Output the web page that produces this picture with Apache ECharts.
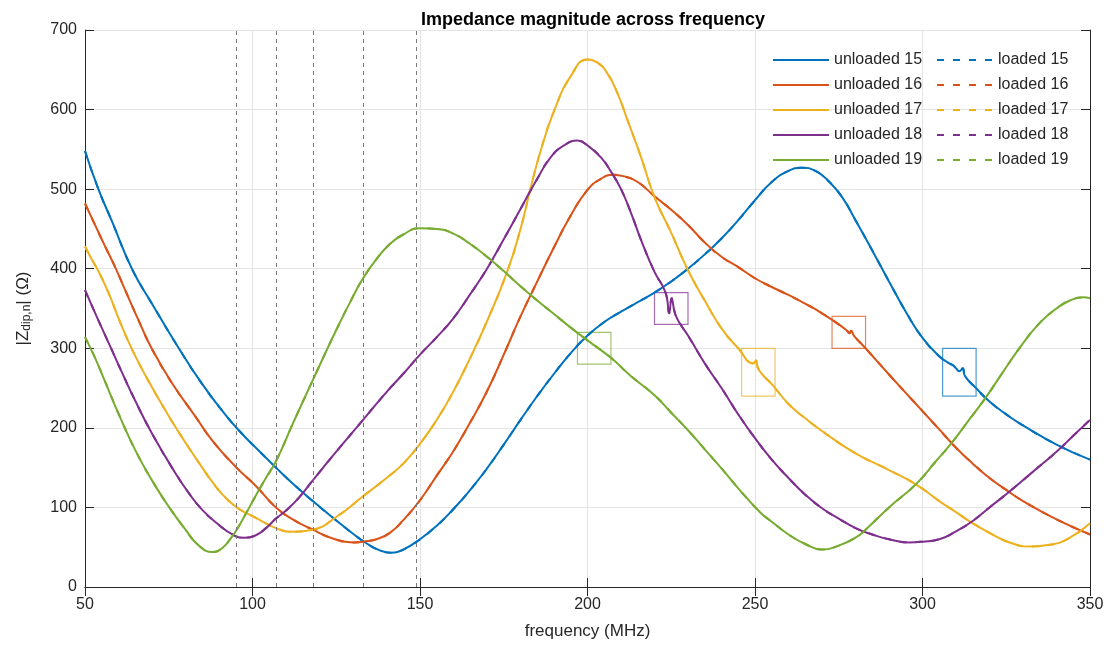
<!DOCTYPE html>
<html><head><meta charset="utf-8">
<script src="https://cdn.jsdelivr.net/npm/echarts@6/dist/echarts.min.js"></script>
<style>html,body{margin:0;padding:0;background:#fff}#c{width:1108px;height:647px}</style>
</head><body><div id="c"></div>
<script>
// ---------- data ----------
const titleText = 'Impedance magnitude across frequency';
const xTicks = [50, 100, 150, 200, 250, 300, 350];
const yTicks = [0, 100, 200, 300, 400, 500, 600, 700];
const caseIds = ['15', '16', '17', '18', '19'];
const colors = ['#0072BD', '#D95319', '#EDB120', '#7E2F8E', '#77AC30'];
const boxColors = ['rgba(0,114,189,0.7)', 'rgba(217,83,25,0.7)', 'rgba(237,177,32,0.7)', 'rgba(126,47,142,0.7)', 'rgba(119,172,48,0.7)'];

const unloaded15 = [[50,548],[54,500],[58,460],[64,400],[70,356],[78,300],[85,255],[92,216],[97,192],[101,175],[107,150],[112,130],[118,108],[124,87],[130,67],[134,55],[138,46],[141.5,43],[145,47],[150,60],[155,77],[160,98],[165,122],[170,149],[175,179],[180,210],[185,240],[190,268],[195,294],[200,316],[205,333],[210,346],[215,358],[220,370],[225,384],[230,400],[235,418],[240,438],[245,461],[250,486],[255,509],[260,523],[264,527],[268,523],[272,510],[276,490],[280,461],[285,423],[290,384],[295,346],[300,313],[305,290],[308,281],[309,279],[310,275],[311,271],[312,275],[312.7,265],[316,250],[320,233],[325,217],[330,203],[340,179],[350,160]];
const unloaded16 = [[50,482],[53,455],[56,428],[59,402],[62,373],[66,335],[70,299],[76,256],[83,214],[88,184],[95,151],[101,127],[107,100],[112,85],[118,72],[124,61],[130,56],[133,57],[137,60],[141,68],[145,84],[150,109],[155,140],[160,171],[165,207],[170,246],[175,292],[180,340],[185,384],[190,427],[195,467],[200,499],[204,513],[207.5,518],[211,516],[215,509],[220,491],[225,474],[230,455],[235,433],[240,415],[245,402],[250,388],[255,377],[260,367],[265,356],[270,344],[275,330],[277.5,322],[278.2,319],[278.7,322],[279.5,316],[283,300],[290,267],[295,244],[300,221],[305,198],[310,175],[315,155],[320,137],[325,122],[330,108],[340,85],[350,66]];
const unloaded17 = [[50,428],[52,412],[54,397],[57,370],[60,338],[63,308],[66,282],[70,251],[74,222],[77,201],[81,175],[85,150],[88,132],[92,112],[96,98],[101,87],[107,74],[112,69.5],[118,72],[125,88],[133,114],[140,137],[145,155],[150,180],[155,210],[160,246],[165,288],[170,334],[176,396],[180,450],[183,501],[186,548],[190,598],[195,642],[200,663],[203,659],[206,645],[209,620],[212,586],[216,540],[220,490],[225,445],[230,398],[235,360],[240,325],[245,300],[249.5,281],[250.3,285],[250.8,276],[252,268],[255,255],[260,230],[265,212],[270,196],[280,168],[290,147],[298,129],[305,108],[310,94],[315,80],[320,68],[326,56],[332,51],[338,53],[344,62],[350,80]];
const unloaded18 = [[50,373],[54,335],[58,298],[61,270],[65,234],[70,193],[77,143],[81,118],[85,97],[90,78],[94,66],[97.5,62],[101,65],[104,74],[107,86],[110,96],[114,113],[118,134],[125,170],[133,210],[140,245],[145,268],[150,292],[155,314],[160,338],[165,368],[170,400],[175,437],[180,475],[185,513],[189,540],[193,555],[197,561],[200,555],[204,540],[207,522],[210,500],[213,470],[216,436],[220,396],[223.3,370],[224.4,344],[225.1,363],[226.1,344],[227.6,331],[230,316],[235,281],[240,250],[245,217],[250,187],[255,160],[260,137],[265,116],[270,99],[275,86],[280,74],[285,66],[290,60],[296,56],[300,57],[305,60],[310,70],[315,83],[320,100],[326,120],[333,145],[340,170],[345,190],[350,210]];
const unloaded19 = [[50,314],[53,288],[56,258],[60,218],[65,172],[70,134],[75,101],[80,72],[84,52],[88,44],[91,49],[94,64],[95,70],[98,92],[101,115],[104,137],[107,158],[112,205],[118,260],[125,323],[130,365],[133,388],[137,412],[141,431],[145,443],[150,451],[155,450],[160,444],[165,431],[170,415],[175,397],[180,378],[185,360],[190,343],[195,326],[200,310],[207,288],[213,265],[220,241],[225,219],[230,197],[235,173],[240,149],[245,124],[251.5,94],[255,82],[260,66],[265,54],[270,47],[275,52],[280,62],[283,72],[290,100],[298,129],[304,158],[308.7,181],[313,205],[318.7,237],[324,270],[329.6,304],[335,332],[340,350],[344,360],[348,364],[350,363]];

// loaded traces coincide with unloaded ones at this scale
const loaded15 = unloaded15;
const loaded16 = unloaded16;
const loaded17 = unloaded17;
const loaded18 = unloaded18;
const loaded19 = unloaded19;

const markerFreqs = [95, 107, 118, 133, 149];
// [xMin, xMax, yMin, yMax] per case
const boxes = [[306,316,240,300],[273,283,300,340],[246,256,240,300],[220,230,330,370],[197,207,280,320]];

// ---------- chart ----------
const unloaded = [unloaded15, unloaded16, unloaded17, unloaded18, unloaded19];
const loaded = [loaded15, loaded16, loaded17, loaded18, loaded19];
const FONT = 'Liberation Sans, Arial, Helvetica, sans-serif';
const TXT = '#262626';
const SMOOTH = 0.5;

const series = [];
caseIds.forEach((id, i) => {
  series.push({
    name: 'loaded ' + id, type: 'line', data: loaded[i], xAxisIndex: 0, yAxisIndex: 0,
    showSymbol: false, symbol: 'none', smooth: SMOOTH, z: 2,
    lineStyle: { color: colors[i], width: 2, type: [7, 9] }, itemStyle: { color: colors[i] },
    silent: true, animation: false,
    markArea: {
      silent: true,
      itemStyle: { color: 'rgba(0,0,0,0)', borderColor: boxColors[i], borderWidth: 1.2 },
      data: [[{ coord: [boxes[i][0], boxes[i][2]] }, { coord: [boxes[i][1], boxes[i][3]] }]]
    }
  });
});
caseIds.forEach((id, i) => {
  series.push({
    name: 'unloaded ' + id, type: 'line', data: unloaded[i], xAxisIndex: 0, yAxisIndex: 0,
    showSymbol: false, symbol: 'none', smooth: SMOOTH, z: 3,
    lineStyle: { color: colors[i], width: 2 }, itemStyle: { color: colors[i] },
    silent: true, animation: false
  });
});
series.push({
  name: 'markers', type: 'line', data: [], xAxisIndex: 0, yAxisIndex: 0, silent: true, animation: false,
  markLine: {
    silent: true, symbol: ['none', 'none'], label: { show: false },
    lineStyle: { color: '#7a7a7a', type: [4, 4], width: 1 },
    data: markerFreqs.map(f => ({ xAxis: f }))
  }
});

const axisCommon = {
  axisLine: { show: true, lineStyle: { color: TXT, width: 1 } },
  axisTick: { show: true, inside: true, length: 9, lineStyle: { color: TXT } }
};

const legendCommon = {
  orient: 'vertical', top: 52, padding: 0, itemWidth: 56, itemHeight: 14, itemGap: 9,
  itemStyle: { opacity: 0 },
  textStyle: { fontFamily: FONT, fontSize: 16, color: TXT }, selectedMode: false
};

const option = {
  animation: false,
  backgroundColor: '#fff',
  title: {
    text: titleText, left: 588, top: 6, textAlign: 'center',
    textStyle: { fontFamily: FONT, fontSize: 18, fontWeight: 'bold', color: '#000' }
  },
  grid: { left: 85, right: 18, top: 30, bottom: 60, containLabel: false },
  legend: [
    Object.assign({ data: caseIds.map(id => 'unloaded ' + id), left: 772 }, legendCommon),
    Object.assign({ data: caseIds.map(id => 'loaded ' + id), left: 936 }, legendCommon)
  ],
  xAxis: [
    Object.assign({
      type: 'value', min: xTicks[0], max: xTicks[xTicks.length - 1], interval: 50, position: 'bottom',
      name: 'frequency (MHz)', nameLocation: 'middle', nameGap: 36,
      nameTextStyle: { fontFamily: FONT, fontSize: 17, color: TXT },
      axisLabel: { fontFamily: FONT, fontSize: 16, color: TXT, margin: 10 },
      splitLine: { show: true, lineStyle: { color: '#e4e4e4', width: 1 } }
    }, axisCommon),
    Object.assign({
      type: 'value', min: xTicks[0], max: xTicks[xTicks.length - 1], interval: 50, position: 'top',
      axisLabel: { show: false }, splitLine: { show: false }
    }, axisCommon)
  ],
  yAxis: [
    Object.assign({
      type: 'value', min: yTicks[0], max: yTicks[yTicks.length - 1], interval: 100, position: 'left',
      name: '{a||Z}{b|dip,n}{a|| (Ω)}', nameLocation: 'middle', nameGap: 52, nameRotate: 90,
      nameTextStyle: {
        fontFamily: FONT, color: TXT,
        rich: {
          a: { fontFamily: FONT, fontSize: 17, color: TXT, lineHeight: 20 },
          b: { fontFamily: FONT, fontSize: 12, color: TXT, lineHeight: 10, verticalAlign: 'bottom' }
        }
      },
      axisLabel: { fontFamily: FONT, fontSize: 16, color: TXT, margin: 8 },
      splitLine: { show: true, lineStyle: { color: '#e4e4e4', width: 1 } }
    }, axisCommon),
    Object.assign({
      type: 'value', min: yTicks[0], max: yTicks[yTicks.length - 1], interval: 100, position: 'right',
      axisLabel: { show: false }, splitLine: { show: false }
    }, axisCommon)
  ],
  series: series
};

const chart = echarts.init(document.getElementById('c'), null, { renderer: 'canvas' });
chart.setOption(option);
</script>
</body></html>
